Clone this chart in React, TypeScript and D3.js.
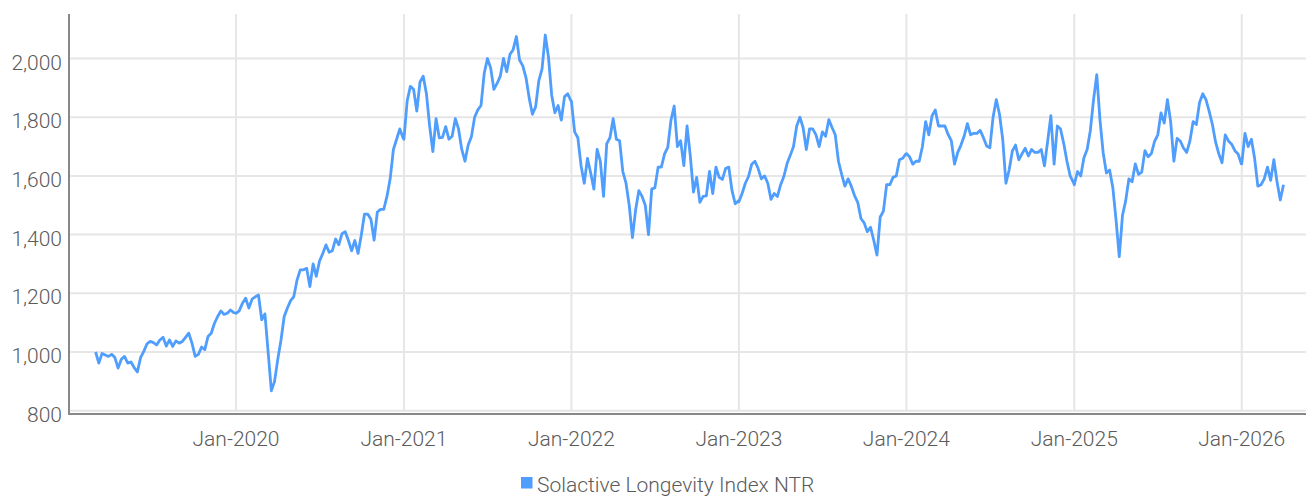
import React from "react";
import * as d3 from "d3";

// weekly closes, each array starts at its own date and steps 7 days
const w2019 = [
  1000, 962, 995, 990, 985, 992, 981, 945, 975, 985, 962, 966, 947, 932, 981, 1002,
  1028, 1036, 1032, 1024, 1041, 1050, 1020, 1041, 1019, 1038, 1030, 1036, 1050, 1064,
  1030, 985, 992, 1017, 1008, 1053, 1064, 1098, 1121, 1140, 1128, 1132, 1143, 1134,
];
const w2020 = [
  1132, 1140, 1166, 1183, 1150, 1180, 1188, 1194, 1110, 1130, 1000, 868, 900, 975, 1040,
  1121, 1150, 1175, 1189, 1245, 1280, 1280, 1285, 1223, 1300, 1258, 1310, 1335, 1365,
  1340, 1345, 1385, 1365, 1403, 1410, 1380, 1345, 1380, 1336, 1398, 1470, 1470, 1452,
  1381, 1477, 1486, 1486, 1530, 1590, 1690, 1725, 1760, 1730,
];
const w2021 = [
  1725, 1855, 1905, 1895, 1821, 1920, 1940, 1880, 1770, 1683, 1795, 1730, 1731, 1768,
  1725, 1735, 1795, 1760, 1690, 1650, 1705, 1733, 1800, 1825, 1840, 1950, 2000, 1968,
  1895, 1915, 1940, 2000, 1955, 2014, 2030, 2075, 1995, 1975, 1935, 1865, 1810, 1835,
  1925, 1965, 2080, 2005, 1875, 1815, 1840, 1790, 1870, 1880, 1855,
];
const w2022 = [
  1855, 1750, 1730, 1635, 1575, 1660, 1610, 1555, 1690, 1650, 1530, 1710, 1730, 1795,
  1725, 1720, 1615, 1575, 1500, 1390, 1485, 1550, 1530, 1500, 1400, 1555, 1560, 1630,
  1630, 1675, 1697, 1790, 1838, 1700, 1720, 1635, 1770, 1670, 1545, 1595, 1510, 1530,
  1532, 1615, 1540, 1630, 1595, 1588, 1625, 1630, 1550, 1505, 1515,
];
const w2023 = [
  1512, 1540, 1575, 1598, 1640, 1650, 1625, 1590, 1600, 1575, 1520, 1540, 1530, 1570,
  1598, 1642, 1670, 1700, 1770, 1800, 1764, 1690, 1760, 1760, 1740, 1700, 1750, 1735,
  1792, 1765, 1740, 1650, 1605, 1565, 1590, 1565, 1533, 1510, 1455, 1440, 1410, 1425,
  1380, 1330, 1460, 1480, 1570, 1570, 1595, 1600, 1655, 1660, 1675,
];
const w2024 = [
  1676, 1665, 1640, 1650, 1650, 1700, 1785, 1740, 1805, 1825, 1770, 1770, 1770, 1741,
  1720, 1640, 1680, 1705, 1736, 1778, 1740, 1745, 1745, 1755, 1730, 1702, 1696, 1800,
  1860, 1810, 1725, 1575, 1620, 1685, 1705, 1655, 1675, 1694, 1668, 1690, 1680, 1680,
  1690, 1634, 1719, 1805, 1640, 1770, 1760, 1710, 1650, 1600, 1578,
];
const w2025 = [
  1570, 1615, 1600, 1662, 1690, 1755, 1860, 1945, 1790, 1678, 1610, 1620, 1560, 1450,
  1325, 1465, 1515, 1590, 1580, 1641, 1605, 1613, 1686, 1665, 1676, 1718, 1740, 1815,
  1780, 1860, 1785, 1650, 1728, 1719, 1695, 1680, 1719, 1785, 1775, 1850, 1880, 1860,
  1820, 1775, 1715, 1675, 1645, 1740, 1719, 1708, 1686, 1675, 1641,
];
const w2026 = [1641, 1745, 1700, 1725, 1660, 1565, 1570, 1590, 1630, 1585, 1655, 1578, 1518, 1570];

const seriesStarts = ["2019-03-01", "2020-01-01", "2021-01-01", "2022-01-01", "2023-01-01", "2024-01-01", "2025-01-01", "2026-01-01"];
const seriesWeeks = [w2019, w2020, w2021, w2022, w2023, w2024, w2025, w2026];

const yTicks = [800, 1000, 1200, 1400, 1600, 1800, 2000];
const xTicks = ["2020-01-01", "2021-01-01", "2022-01-01", "2023-01-01", "2024-01-01", "2025-01-01", "2026-01-01"];
const seriesName = "Solactive Longevity Index NTR";

const parse = d3.timeParse("%Y-%m-%d");

const width = 1306;
const height = 500;
const left = 69;
const top = 14;
const bottom = 414;
const font = "Roboto, 'Open Sans', sans-serif";
const textColor = "#5b5b5b";
const lineColor = "#4f9dfc";

export default function App() {
  const points = seriesStarts.flatMap((s, j) => {
    const d0 = parse(s) as Date;
    return seriesWeeks[j].map((v, i) => ({ date: d3.timeDay.offset(d0, 7 * i), value: v }));
  });

  const x = d3
    .scaleTime()
    .domain([parse("2019-01-02") as Date, parse("2026-05-21") as Date])
    .range([left, width]);

  const y = d3.scaleLinear().domain([800, 2000]).range([410.7, 58.5]);

  const line = d3
    .line<{ date: Date; value: number }>()
    .x((d) => x(d.date))
    .y((d) => y(d.value));

  const fmt = d3.format(",");
  const fmtDate = d3.timeFormat("%b-%Y");

  return (
    <svg
      width={width}
      height={height}
      style={{ position: "absolute", left: 0, top: 0, background: "#fff" }}
      fontFamily={font}
      fontWeight={300}
    >
      {/* grid */}
      {yTicks.map((t) => (
        <line key={"gy" + t} x1={left} x2={width} y1={y(t)} y2={y(t)} stroke="#e6e6e6" strokeWidth={2} />
      ))}
      {xTicks.map((t) => {
        const xx = x(parse(t) as Date);
        return <line key={"gx" + t} x1={xx} x2={xx} y1={top} y2={y(800)} stroke="#e6e6e6" strokeWidth={2} />;
      })}

      {/* axes */}
      <line x1={left} x2={left} y1={top} y2={bottom + 1} stroke="#888" strokeWidth={2} />
      <line x1={left} x2={width} y1={bottom} y2={bottom} stroke="#888" strokeWidth={2} />

      {yTicks.map((t) => (
        <text key={"ly" + t} x={62} y={y(t) + 11} textAnchor="end" fontSize={21} fill={textColor}>
          {fmt(t)}
        </text>
      ))}
      {xTicks.map((t) => (
        <text key={"lx" + t} x={x(parse(t) as Date)} y={446} textAnchor="middle" fontSize={21} fill={textColor}>
          {fmtDate(parse(t) as Date)}
        </text>
      ))}

      {/* series */}
      <path d={line(points) ?? ""} fill="none" stroke={lineColor} strokeWidth={2.8} strokeLinejoin="round" />

      {/* legend */}
      <rect x={521} y={477} width={11.5} height={11.5} fill={lineColor} />
      <text x={537} y={492} fontSize={21} fill={textColor}>
        {seriesName}
      </text>
    </svg>
  );
}
